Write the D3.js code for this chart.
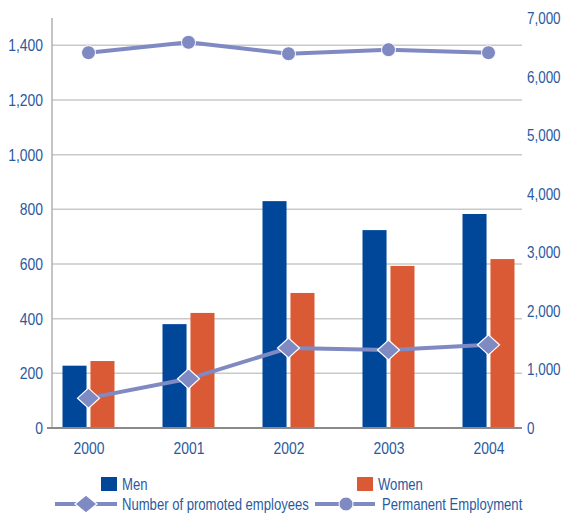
<!DOCTYPE html>
<html><head><meta charset="utf-8">
<script src="https://cdn.jsdelivr.net/npm/d3@7"></script>
<style>
body{margin:0;background:#fff;}
text{font-family:"Liberation Sans",Arial,sans-serif;fill:#2a5a9e;}
</style></head><body>
<svg id="c" width="563" height="514"></svg>
<script>
const years = ["2000","2001","2002","2003","2004"];
const men = [228, 380, 830, 724, 783];
const women = [245, 421, 494, 593, 618];
const promoted = [510, 840, 1366, 1332, 1420];
const permanent = [6408, 6585, 6390, 6459, 6408];
const leftTicks = [0,200,400,600,800,1000,1200,1400];
const rightTicks = [0,1000,2000,3000,4000,5000,6000,7000];
const seriesNames = ["Men","Women","Number of promoted employees","Permanent Employment"];

const svg = d3.select("#c");
const plotL = 52, plotR = 522, plotT = 18, plotB = 428;
const FS = 17, FONT = '"Liberation Sans",Arial,sans-serif', TXT = "#2a5a9e";
const fmt = d3.format(",");
const x = d3.scalePoint().domain(years).range([88.5, 488.5]);
const yL = d3.scaleLinear().domain([0,1500]).range([plotB, plotT]);
const yR = d3.scaleLinear().domain([0,7000]).range([plotB, plotT]);
const sub = d3.scaleBand().domain(["m","w"]).range([-26, 26]).paddingInner(0.14);

const colMen = "#00479a", colWomen = "#da5a36", colLine = "#7f89c2";

// condensed look: scale glyphs horizontally around the text anchor point
function narrow(sel, k){
  sel.attr("font-size", FS).style("fill", TXT).style("font-family", FONT)
    .each(function(){
      const x0 = +this.getAttribute("x") || 0, y0 = +this.getAttribute("y") || 0;
      this.setAttribute("x", 0); this.setAttribute("y", 0);
      this.setAttribute("transform", `translate(${x0},${y0}) scale(${k},1)`);
    });
}

// gridlines
svg.append("g").selectAll("line").data(leftTicks.filter(d=>d>0)).join("line")
  .attr("x1", plotL).attr("x2", plotR).attr("y1", d=>yL(d)).attr("y2", d=>yL(d))
  .attr("stroke", "#c9c9c9").attr("stroke-width", 1.5);
// left axis line
svg.append("line").attr("x1", plotL).attr("x2", plotL).attr("y1", plotT).attr("y2", plotB)
  .attr("stroke", "#b0b0b0").attr("stroke-width", 1.5);

// left axis labels
const gL = svg.append("g").attr("transform", `translate(${plotL},0)`)
  .call(d3.axisLeft(yL).tickValues(leftTicks).tickFormat(fmt).tickSize(0).tickPadding(9));
gL.select(".domain").remove();
narrow(gL.selectAll("text"), 0.82);

// right axis labels
const gR = svg.append("g").attr("transform", `translate(${plotR},0)`)
  .call(d3.axisRight(yR).tickValues(rightTicks).tickFormat(fmt).tickSize(0).tickPadding(5));
gR.select(".domain").remove();
narrow(gR.selectAll("text"), 0.79);

// bars
svg.append("g").selectAll("rect").data(years.map((y,i)=>({y, v:men[i]}))).join("rect")
  .attr("x", d=>x(d.y)+sub("m")).attr("width", sub.bandwidth())
  .attr("y", d=>yL(d.v)).attr("height", d=>plotB - yL(d.v)).attr("fill", colMen);
svg.append("g").selectAll("rect").data(years.map((y,i)=>({y, v:women[i]}))).join("rect")
  .attr("x", d=>x(d.y)+sub("w")).attr("width", sub.bandwidth())
  .attr("y", d=>yL(d.v)).attr("height", d=>plotB - yL(d.v)).attr("fill", colWomen);

// bottom axis line
svg.append("line").attr("x1", plotL-5).attr("x2", plotR).attr("y1", plotB).attr("y2", plotB)
  .attr("stroke", "#8a8a8a").attr("stroke-width", 2);

// x axis labels
const gX = svg.append("g").attr("transform", `translate(0,${plotB})`)
  .call(d3.axisBottom(x).tickSize(0).tickPadding(14));
gX.select(".domain").remove();
narrow(gX.selectAll("text"), 0.82);

// lines
const lineP = d3.line().x((d,i)=>x(years[i])).y(d=>yR(d));
svg.append("path").datum(permanent).attr("d", lineP).attr("fill","none")
  .attr("stroke", colLine).attr("stroke-width", 4);
svg.append("g").selectAll("circle").data(permanent).join("circle")
  .attr("cx", (d,i)=>x(years[i])).attr("cy", d=>yR(d)).attr("r", 7)
  .attr("fill", colLine).attr("stroke","#fff").attr("stroke-width",1);
svg.append("path").datum(promoted).attr("d", lineP).attr("fill","none")
  .attr("stroke", colLine).attr("stroke-width", 4);
const diamond = (cx,cy,rx,ry)=>`M${cx},${cy-ry}L${cx+rx},${cy}L${cx},${cy+ry}L${cx-rx},${cy}Z`;
svg.append("g").selectAll("path").data(promoted).join("path")
  .attr("d", (d,i)=>diamond(x(years[i]), yR(d), 11, 10))
  .attr("fill", colLine).attr("stroke","#fff").attr("stroke-width",1.2);

// legend
const lg = svg.append("g");
lg.append("rect").attr("x",101).attr("y",477).attr("width",16).attr("height",14).attr("fill",colMen);
lg.append("rect").attr("x",357).attr("y",477).attr("width",16).attr("height",14).attr("fill",colWomen);
const ly = 504;
lg.append("line").attr("x1",55).attr("x2",117).attr("y1",ly).attr("y2",ly).attr("stroke",colLine).attr("stroke-width",4);
lg.append("path").attr("d", diamond(86, ly, 11, 9)).attr("fill",colLine).attr("stroke","#fff").attr("stroke-width",1.2);
lg.append("line").attr("x1",315).attr("x2",375).attr("y1",ly).attr("y2",ly).attr("stroke",colLine).attr("stroke-width",4);
lg.append("circle").attr("cx",346).attr("cy",ly).attr("r",7).attr("fill",colLine).attr("stroke","#fff").attr("stroke-width",1);
const lt = [
  {t:seriesNames[0], x:122, y:490},
  {t:seriesNames[1], x:378, y:490},
  {t:seriesNames[2], x:122, y:510},
  {t:seriesNames[3], x:382, y:510}
];
narrow(lg.selectAll("text.l").data(lt).join("text").attr("class","l")
  .attr("x", d=>d.x).attr("y", d=>d.y).text(d=>d.t), 0.77);
</script></body></html>
